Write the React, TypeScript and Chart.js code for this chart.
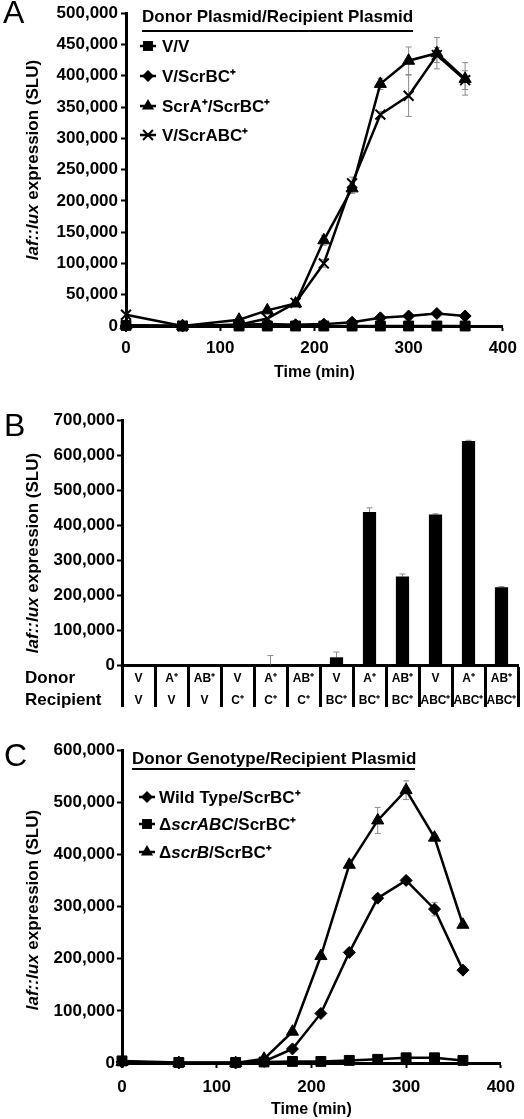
import React, { useEffect, useRef } from "react";
import { Chart, registerables } from "chart.js";

Chart.register(...registerables);

const FONT = "'Liberation Sans', Arial, Helvetica, sans-serif";
Chart.defaults.font.family = FONT;
Chart.defaults.color = "#000";

// ---------------- Panel A data ----------------
const timeA = [0, 60, 120, 150, 180, 210, 240, 270, 300, 330, 360];
const aVV = [1000, 0, 0, 0, 0, 0, 0, 0, 0, 0, 0];
const aVScrBC = [0, 0, 2000, 3000, 2000, 3000, 6000, 13000, 16000, 20000, 16000];
const aScrAScrBC = [1000, 0, 10000, 25000, 36000, 137000, 220000, 387000, 424000, 436000, 395000];
const aVScrABC = [18000, 0, 2000, 12000, 37000, 100000, 228000, 338000, 368000, 433000, 393000];
const aErrScrAScrBC = [0, 0, 0, 0, 0, 8000, 8000, 9000, 22000, 25000, 26000];
const aErrVScrABC = [0, 0, 0, 0, 0, 6000, 10000, 5000, 33000, 12000, 15000];
const legendTitleA = "Donor Plasmid/Recipient Plasmid";
const legendA = ["V/V", "V/ScrBC⁺", "ScrA⁺/ScrBC⁺", "V/ScrABC⁺"];
const xTicksA = [0, 100, 200, 300, 400];
const yTicksA = [0, 50000, 100000, 150000, 200000, 250000, 300000, 350000, 400000, 450000, 500000];

// ---------------- Panel B data ----------------
const donorB = ["V", "A⁺", "AB⁺", "V", "A⁺", "AB⁺", "V", "A⁺", "AB⁺", "V", "A⁺", "AB⁺"];
const recipientB = ["V", "V", "V", "C⁺", "C⁺", "C⁺", "BC⁺", "BC⁺", "BC⁺", "ABC⁺", "ABC⁺", "ABC⁺"];
const valuesB = [0, 0, 0, 0, 1000, 0, 22000, 437000, 253000, 430000, 640000, 222000];
const errorsB = [0, 0, 0, 0, 26000, 0, 15000, 12000, 7000, 2000, 2000, 2000];
const yTicksB = [0, 100000, 200000, 300000, 400000, 500000, 600000, 700000];
const rowLabelsB = ["Donor", "Recipient"];

// ---------------- Panel C data ----------------
const timeC = [0, 60, 120, 150, 180, 210, 240, 270, 300, 330, 360];
const cWildType = [2000, 0, 0, 3000, 27000, 95000, 212000, 316000, 350000, 295000, 178000];
const cDScrABC = [4000, 1000, 1000, 2000, 3000, 3000, 5000, 7000, 10000, 10000, 5000];
const cDScrB = [2000, 0, 0, 8000, 60000, 205000, 380000, 465000, 523000, 432000, 265000];
const cErrWildType = [0, 0, 0, 0, 0, 0, 0, 0, 5000, 13000, 0];
const cErrDScrB = [0, 0, 0, 0, 0, 0, 0, 25000, 18000, 0, 0];
const legendTitleC = "Donor Genotype/Recipient Plasmid";
const legendC: [string, boolean][][] = [
  [["Wild Type/ScrBC⁺", false]],
  [["Δ", false], ["scrABC", true], ["/ScrBC⁺", false]],
  [["Δ", false], ["scrB", true], ["/ScrBC⁺", false]],
];
const xTicksC = [0, 100, 200, 300, 400];
const yTicksC = [0, 100000, 200000, 300000, 400000, 500000, 600000];

const yAxisTitle: [string, boolean][] = [["laf::lux", true], [" expression (SLU)", false]];
const xAxisTitle = "Time (min)";

// ---------------- helpers ----------------
const pts = (xs: number[], ys: number[]) => xs.map((x, i) => ({ x, y: ys[i] }));
const fmt = (v: any) => Number(v).toLocaleString("en-US");
const R: Record<string, number> = { rect: 7, rectRot: 6, triangle: 7, crossRot: 7 };

function drawMarker(ctx: CanvasRenderingContext2D, style: string, x: number, y: number, r: number) {
  ctx.beginPath();
  if (style === "rect") {
    const s = r * Math.SQRT1_2;
    ctx.rect(x - s, y - s, 2 * s, 2 * s);
    ctx.fill();
  } else if (style === "rectRot") {
    ctx.moveTo(x, y - r);
    ctx.lineTo(x + r, y);
    ctx.lineTo(x, y + r);
    ctx.lineTo(x - r, y);
    ctx.closePath();
    ctx.fill();
  } else if (style === "triangle") {
    let a = 0;
    ctx.moveTo(x + Math.sin(a) * r, y - Math.cos(a) * r);
    a += (2 * Math.PI) / 3;
    ctx.lineTo(x + Math.sin(a) * r, y - Math.cos(a) * r);
    a += (2 * Math.PI) / 3;
    ctx.lineTo(x + Math.sin(a) * r, y - Math.cos(a) * r);
    ctx.closePath();
    ctx.fill();
  } else if (style === "crossRot") {
    const s = r * Math.SQRT1_2;
    ctx.lineWidth = 2;
    ctx.moveTo(x - s, y - s);
    ctx.lineTo(x + s, y + s);
    ctx.moveTo(x - s, y + s);
    ctx.lineTo(x + s, y - s);
    ctx.stroke();
  }
}

function drawRuns(ctx: CanvasRenderingContext2D, runs: [string, boolean][], x: number, y: number, size: number) {
  let cx = x;
  for (const [t, it] of runs) {
    ctx.font = `${it ? "italic " : ""}bold ${size}px ${FONT}`;
    ctx.fillText(t, cx, y);
    cx += ctx.measureText(t).width;
  }
}
function runsWidth(ctx: CanvasRenderingContext2D, runs: [string, boolean][], size: number) {
  let w = 0;
  for (const [t, it] of runs) {
    ctx.font = `${it ? "italic " : ""}bold ${size}px ${FONT}`;
    w += ctx.measureText(t).width;
  }
  return w;
}

function errorBarPlugin(errs: (number[] | null)[], upOnly: boolean, cap: number) {
  return {
    id: "errorBars",
    beforeDatasetsDraw(chart: any) {
      const ctx = chart.ctx as CanvasRenderingContext2D;
      const ys = chart.scales.y;
      ctx.save();
      ctx.strokeStyle = "#8c8c8c";
      ctx.lineWidth = 1;
      errs.forEach((err, di) => {
        if (!err) return;
        const meta = chart.getDatasetMeta(di);
        const data = chart.data.datasets[di].data;
        meta.data.forEach((el: any, i: number) => {
          const e = err[i];
          if (!e) return;
          const d = data[i];
          const v = typeof d === "number" ? d : d.y;
          const top = ys.getPixelForValue(v + e);
          const bot = upOnly ? ys.getPixelForValue(v) : ys.getPixelForValue(v - e);
          ctx.beginPath();
          ctx.moveTo(el.x, top);
          ctx.lineTo(el.x, bot);
          ctx.moveTo(el.x - cap, top);
          ctx.lineTo(el.x + cap, top);
          if (!upOnly) {
            ctx.moveTo(el.x - cap, bot);
            ctx.lineTo(el.x + cap, bot);
          }
          ctx.stroke();
        });
      });
      ctx.restore();
    },
  };
}

interface LegendCfg {
  title: string;
  x: number;
  y: number;
  underlineY: number;
  underlineEnd: number;
  markerX: number;
  textX: number;
  items: { runs: [string, boolean][]; marker: string; y: number }[];
}
interface Decor {
  letter: { text: string; x: number; y: number };
  yTitle: { x: number; y: number };
  legend?: LegendCfg;
  rows?: { text: string; x: number; y: number }[];
}

function decorPlugin(d: Decor) {
  return {
    id: "decor",
    afterDraw(chart: any) {
      const ctx = chart.ctx as CanvasRenderingContext2D;
      ctx.save();
      ctx.fillStyle = "#000";
      ctx.strokeStyle = "#000";
      ctx.textBaseline = "middle";
      ctx.textAlign = "left";
      // panel letter
      ctx.font = `32px ${FONT}`;
      ctx.fillText(d.letter.text, d.letter.x, d.letter.y);
      // rotated y title
      ctx.save();
      ctx.translate(d.yTitle.x, d.yTitle.y);
      ctx.rotate(-Math.PI / 2);
      const w = runsWidth(ctx, yAxisTitle, 17);
      drawRuns(ctx, yAxisTitle, -w / 2, 0, 17);
      ctx.restore();
      // legend
      if (d.legend) {
        const L = d.legend;
        ctx.font = `bold 17px ${FONT}`;
        ctx.fillText(L.title, L.x, L.y);
        ctx.lineWidth = 2;
        ctx.beginPath();
        ctx.moveTo(L.x, L.underlineY);
        ctx.lineTo(L.underlineEnd, L.underlineY);
        ctx.stroke();
        for (const it of L.items) {
          ctx.lineWidth = 2.5;
          ctx.beginPath();
          ctx.moveTo(L.markerX - 8, it.y);
          ctx.lineTo(L.markerX + 8, it.y);
          ctx.stroke();
          drawMarker(ctx, it.marker, L.markerX, it.y, R[it.marker]);
          drawRuns(ctx, it.runs, L.textX, it.y + 1, 17);
        }
      }
      if (d.rows) {
        ctx.font = `bold 17px ${FONT}`;
        for (const r of d.rows) ctx.fillText(r.text, r.x, r.y);
      }
      ctx.restore();
    },
  };
}

function lineDs(label: string, xs: number[], ys: number[], style: string) {
  return {
    label,
    data: pts(xs, ys),
    borderColor: "#000",
    backgroundColor: "#000",
    borderWidth: 2.5,
    pointStyle: style,
    pointRadius: R[style],
    pointBackgroundColor: "#000",
    pointBorderColor: "#000",
    pointBorderWidth: style === "crossRot" ? 2 : 1,
    tension: 0,
    clip: false,
  };
}

const tickFont = { family: FONT, size: 17, weight: "bold" as const };

function yScale(ticks: number[], width: number, pad: number) {
  return {
    type: "linear",
    min: ticks[0],
    max: ticks[ticks.length - 1],
    afterBuildTicks: (s: any) => {
      s.ticks = ticks.map((v) => ({ value: v }));
    },
    afterFit: (s: any) => {
      s.width = width;
    },
    grid: { drawOnChartArea: false, drawTicks: true, tickLength: 5, tickColor: "#000", tickWidth: 2 },
    border: { color: "#000", width: 3 },
    ticks: { color: "#000", font: tickFont, padding: pad, callback: fmt },
  };
}

function timeScale(ticks: number[], height: number, pad: number, titlePadBottom: number) {
  return {
    type: "linear",
    min: ticks[0],
    max: ticks[ticks.length - 1],
    afterBuildTicks: (s: any) => {
      s.ticks = ticks.map((v) => ({ value: v }));
    },
    afterFit: (s: any) => {
      s.height = height;
    },
    grid: { drawOnChartArea: false, drawTicks: true, tickLength: 5, tickColor: "#000", tickWidth: 2 },
    border: { color: "#000", width: 3 },
    ticks: { color: "#000", font: tickFont, padding: pad, maxRotation: 0, callback: (v: any) => String(v) },
    title: {
      display: true,
      text: xAxisTitle,
      color: "#000",
      font: { family: FONT, size: 16, weight: "bold" as const },
      padding: { top: 0, bottom: titlePadBottom },
    },
  };
}

const baseOptions = {
  responsive: false,
  animation: false,
  devicePixelRatio: 1,
  events: [],
  plugins: { legend: { display: false }, tooltip: { enabled: false } },
};

function configA(): any {
  return {
    type: "line",
    data: {
      datasets: [
        lineDs(legendA[0], timeA, aVV, "rect"),
        lineDs(legendA[1], timeA, aVScrBC, "rectRot"),
        lineDs(legendA[2], timeA, aScrAScrBC, "triangle"),
        lineDs(legendA[3], timeA, aVScrABC, "crossRot"),
      ],
    },
    options: {
      ...baseOptions,
      layout: { padding: { top: 12, right: 20, left: 0, bottom: 0 } },
      scales: { x: timeScale(xTicksA, 64, 7, 8), y: yScale(yTicksA, 126, 3) },
    },
    plugins: [
      errorBarPlugin([null, null, aErrScrAScrBC, aErrVScrABC], false, 3),
      decorPlugin({
        letter: { text: "A", x: 3, y: 14 },
        yTitle: { x: 33, y: 160 },
        legend: {
          title: legendTitleA,
          x: 142,
          y: 17,
          underlineY: 31,
          underlineEnd: 413,
          markerX: 148,
          textX: 162,
          items: [
            { runs: [[legendA[0], false]], marker: "rect", y: 46 },
            { runs: [[legendA[1], false]], marker: "rectRot", y: 76 },
            { runs: [[legendA[2], false]], marker: "triangle", y: 106 },
            { runs: [[legendA[3], false]], marker: "crossRot", y: 135 },
          ],
        },
      }),
    ],
  };
}

function configB(): any {
  return {
    type: "bar",
    data: {
      labels: donorB.map((d, i) => [d, recipientB[i]]),
      datasets: [
        {
          label: "laf::lux expression",
          data: valuesB,
          backgroundColor: "#000",
          borderWidth: 0,
          barPercentage: 0.4,
          categoryPercentage: 1,
        },
      ],
    },
    options: {
      ...baseOptions,
      layout: { padding: { top: 30, right: 6, left: 0, bottom: 0 } },
      scales: {
        x: {
          afterFit: (s: any) => {
            s.height = 55;
          },
          grid: {
            offset: true,
            drawOnChartArea: false,
            drawTicks: true,
            tickLength: 42,
            tickColor: "#000",
            tickWidth: 3,
            color: "#000",
          },
          border: { color: "#000", width: 3 },
          ticks: {
            color: "#000",
            font: { family: FONT, size: 12, weight: "bold" as const, lineHeight: 1.8 },
            padding: -39,
            autoSkip: false,
            maxRotation: 0,
            minRotation: 0,
          },
        },
        y: yScale(yTicksB, 122, 2),
      },
    },
    plugins: [
      errorBarPlugin([errorsB], true, 3),
      decorPlugin({
        letter: { text: "B", x: 4, y: 37 },
        yTitle: { x: 33, y: 163 },
        rows: [
          { text: rowLabelsB[0], x: 25, y: 288 },
          { text: rowLabelsB[1], x: 25, y: 310 },
        ],
      }),
    ],
  };
}

function configC(): any {
  return {
    type: "line",
    data: {
      datasets: [
        lineDs("Wild Type/ScrBC⁺", timeC, cWildType, "rectRot"),
        lineDs("ΔscrABC/ScrBC⁺", timeC, cDScrABC, "rect"),
        lineDs("ΔscrB/ScrBC⁺", timeC, cDScrB, "triangle"),
      ],
    },
    options: {
      ...baseOptions,
      layout: { padding: { top: 30, right: 17, left: 0, bottom: 0 } },
      scales: { x: timeScale(xTicksC, 56, 9, 0), y: yScale(yTicksC, 122, 2) },
    },
    plugins: [
      errorBarPlugin([cErrWildType, null, cErrDScrB], false, 3),
      decorPlugin({
        letter: { text: "C", x: 4, y: 37 },
        yTitle: { x: 33, y: 190 },
        legend: {
          title: legendTitleC,
          x: 132,
          y: 39,
          underlineY: 49,
          underlineEnd: 415,
          markerX: 147,
          textX: 159,
          items: [
            { runs: legendC[0], marker: "rectRot", y: 77 },
            { runs: legendC[1], marker: "rect", y: 104 },
            { runs: legendC[2], marker: "triangle", y: 132 },
          ],
        },
      }),
    ],
  };
}

function Panel({ make, top, height }: { make: () => any; top: number; height: number }) {
  const ref = useRef<HTMLCanvasElement>(null);
  useEffect(() => {
    const chart = new Chart(ref.current as HTMLCanvasElement, make());
    return () => chart.destroy();
  }, []);
  return (
    <canvas
      ref={ref}
      width={524}
      height={height}
      style={{ position: "absolute", left: 0, top, width: 524, height, display: "block" }}
    />
  );
}

export default function App() {
  return (
    <div style={{ position: "absolute", left: 0, top: 0, width: 524, height: 1119, background: "#fff", overflow: "hidden" }}>
      <Panel make={configA} top={0} height={390} />
      <Panel make={configB} top={390} height={330} />
      <Panel make={configC} top={720} height={399} />
    </div>
  );
}
